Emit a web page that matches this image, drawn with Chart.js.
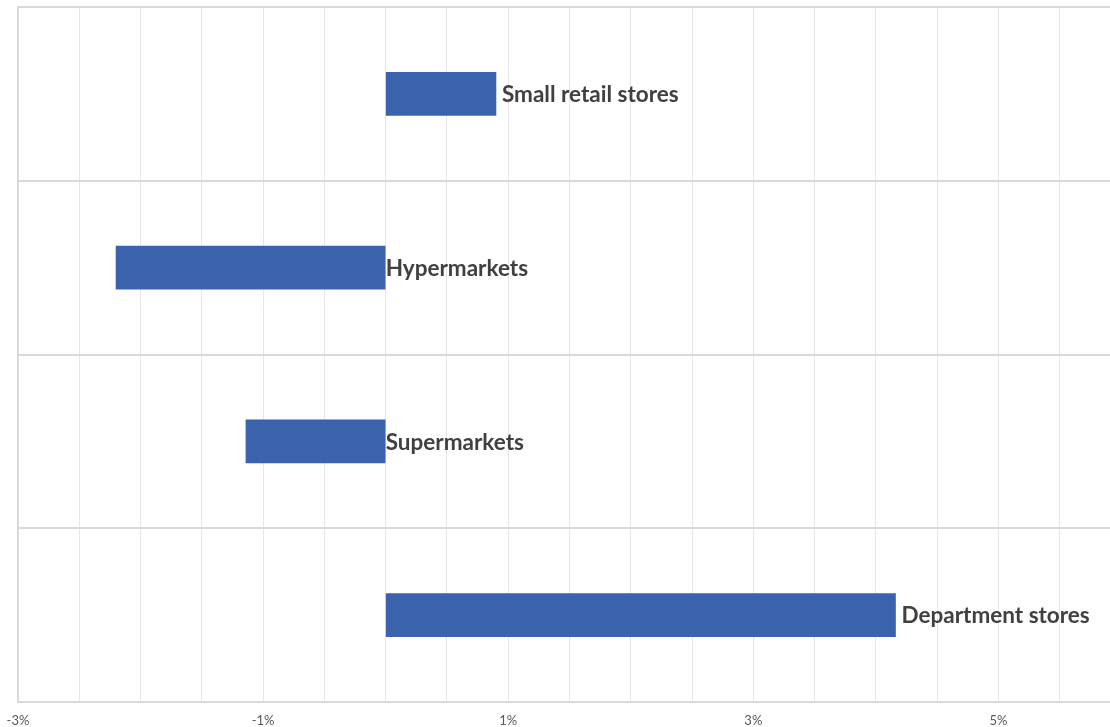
<!DOCTYPE html>
<html><head><meta charset="utf-8">
<script src="https://cdn.jsdelivr.net/npm/chart.js@4/dist/chart.umd.min.js"></script>
<style>
html,body{margin:0;padding:0;background:#fff;overflow:hidden;width:1110px;height:727px}
#wrap{position:absolute;left:0;top:0;width:1121px;height:727px}
</style></head><body>
<div id="wrap"><canvas id="c"></canvas></div>
<script>
const categories = ["Small retail stores", "Hypermarkets", "Supermarkets", "Department stores"];
const changePct = [0.9, -2.2, -1.14, 4.16];
const xMin = -3, xMax = 6, xStep = 0.5;
const labelledTicks = [-3, -1, 1, 3, 5];

const labelPlugin = {
  id: 'barLabels',
  afterDatasetsDraw(chart) {
    const ctx = chart.ctx;
    const meta = chart.getDatasetMeta(0);
    const xs = chart.scales.x;
    ctx.save();
    ctx.font = 'bold 22.5px Lato, "Open Sans", sans-serif';
    ctx.fillStyle = '#404040';
    ctx.textBaseline = 'middle';
    ctx.textAlign = 'left';
    meta.data.forEach((bar, i) => {
      const v = changePct[i];
      const x = v >= 0 ? xs.getPixelForValue(v) + 6 : xs.getPixelForValue(0) + 0;
      ctx.fillText(categories[i], x, bar.y + 1);
    });
    ctx.restore();
  }
};

new Chart(document.getElementById('c'), {
  type: 'bar',
  data: {
    labels: categories,
    datasets: [{
      data: changePct,
      backgroundColor: '#3B63AD',
      borderWidth: 0,
      barThickness: 43
    }]
  },
  options: {
    indexAxis: 'y',
    responsive: true,
    maintainAspectRatio: false,
    animation: false,
    layout: { padding: { left: 18, top: 7, right: 0, bottom: 0 } },
    plugins: { legend: { display: false }, tooltip: { enabled: false } },
    scales: {
      x: {
        min: xMin, max: xMax,
        afterBuildTicks(scale) {
          const t = [];
          for (let v = xMin; v <= xMax + 1e-9; v += xStep) t.push({ value: Math.round(v * 10) / 10 });
          scale.ticks = t;
        },
        afterFit(scale) { scale.height = 25; scale.paddingLeft = 0; scale.paddingRight = 0; },
        ticks: {
          autoSkip: false, maxRotation: 0,
          padding: 11,
          color: '#595959',
          font: { family: 'Lato, "Open Sans", sans-serif', size: 13 },
          callback(v) { return labelledTicks.includes(v) ? v + '%' : ''; }
        },
        grid: { color: '#e6e6e6', lineWidth: 1, drawTicks: false },
        border: { display: true, color: '#d9d9d9', width: 2 }
      },
      y: {
        afterFit(scale) { scale.width = 0; },
        ticks: { display: false },
        grid: { color: '#d9d9d9', lineWidth: 2, drawTicks: false, offset: true },
        border: { display: true, color: '#d9d9d9', width: 2 }
      }
    }
  },
  plugins: [labelPlugin]
});
</script>
</body></html>
